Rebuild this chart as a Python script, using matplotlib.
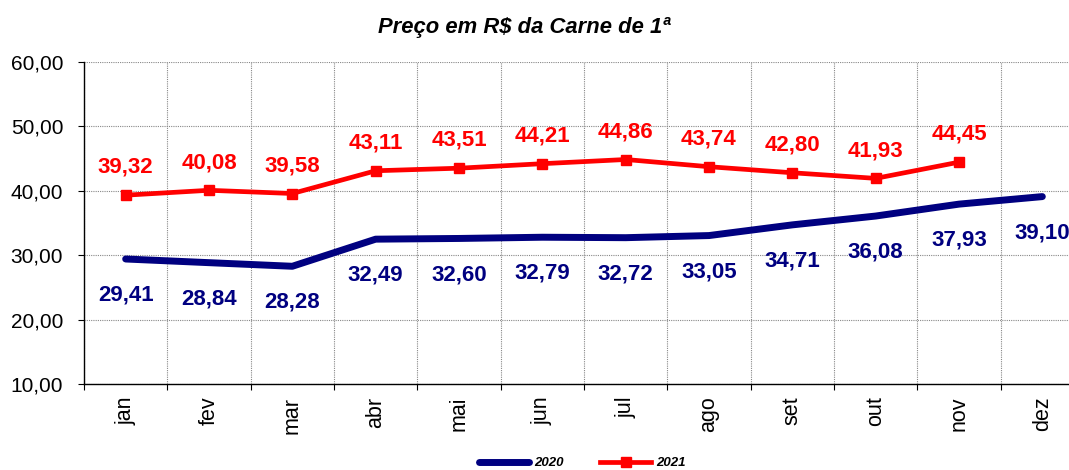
import matplotlib
matplotlib.use("Agg")
import matplotlib.pyplot as plt
from matplotlib.ticker import FixedLocator, FuncFormatter

plt.rcParams['font.family'] = ['Liberation Sans', 'DejaVu Sans']

months = ["jan", "fev", "mar", "abr", "mai", "jun", "jul", "ago", "set", "out", "nov", "dez"]
prices_2020 = [29.41, 28.84, 28.28, 32.49, 32.60, 32.79, 32.72, 33.05, 34.71, 36.08, 37.93, 39.10]
prices_2021 = [39.32, 40.08, 39.58, 43.11, 43.51, 44.21, 44.86, 43.74, 42.80, 41.93, 44.45]
title = "Preço em R$ da Carne de 1ª"
y_ticks = [10, 20, 30, 40, 50, 60]

BLUE = "#000080"
RED = "#FF0000"

def br(v):
    return f"{v:.2f}".replace(".", ",")

fig = plt.figure(figsize=(10.69, 4.70), dpi=100)
ax = fig.add_axes([84 / 1069, 86 / 470, 1000 / 1069, 322 / 470])

x20 = list(range(len(prices_2020)))
x21 = list(range(len(prices_2021)))

l1, = ax.plot(x20, prices_2020, color=BLUE, lw=5, solid_capstyle='round', label="2020", zorder=3)
l2, = ax.plot(x21, prices_2021, color=RED, lw=3.4, marker='s', markersize=7.5, label="2021", zorder=4)

for x, v in zip(x20, prices_2020):
    ax.annotate(br(v), (x, v), xytext=(0, -26), textcoords='offset points',
                ha='center', va='center', color=BLUE, fontsize=16, fontweight='bold',
                annotation_clip=False)
for x, v in zip(x21, prices_2021):
    ax.annotate(br(v), (x, v), xytext=(0, 20), textcoords='offset points',
                ha='center', va='center', color=RED, fontsize=16, fontweight='bold',
                annotation_clip=False)

ax.set_xlim(-0.5, len(months) - 0.5)
ax.set_ylim(10, 60)
ax.set_yticks(y_ticks)
ax.yaxis.set_major_formatter(FuncFormatter(lambda v, p: br(v)))
ax.tick_params(axis='y', labelsize=15, length=4.5, width=0.8, pad=10.5)

ax.set_xticks(x20)
ax.set_xticklabels(months, rotation=90, fontsize=15.5)
ax.tick_params(axis='x', which='major', length=0, pad=9)
ax.xaxis.set_minor_locator(FixedLocator([i + 0.5 for i in range(-1, len(months))]))
ax.tick_params(axis='x', which='minor', length=4.5, width=0.8)

ax.grid(True, axis='y', which='major', color='#888888', linestyle=(0, (1, 1)), lw=0.8)
ax.grid(True, axis='x', which='minor', color='#888888', linestyle=(0, (1, 1)), lw=0.8)
ax.set_axisbelow(True)

for s in ['top', 'right']:
    ax.spines[s].set_visible(False)
ax.spines['left'].set_linewidth(1.0)
ax.spines['bottom'].set_linewidth(1.0)

fig.text(524 / 1069, 1 - 27 / 470, title, ha='center', va='center',
         fontsize=15.8, fontweight='bold', fontstyle='italic')

fig.legend(handles=[l1, l2], loc='center', bbox_to_anchor=(582 / 1069, 1 - 463 / 470),
           ncol=2, frameon=False, prop={'size': 9.5, 'weight': 'bold', 'style': 'italic'},
           handlelength=3.8, columnspacing=2.8, handletextpad=0.4)

fig.savefig("out.png", dpi=100)
